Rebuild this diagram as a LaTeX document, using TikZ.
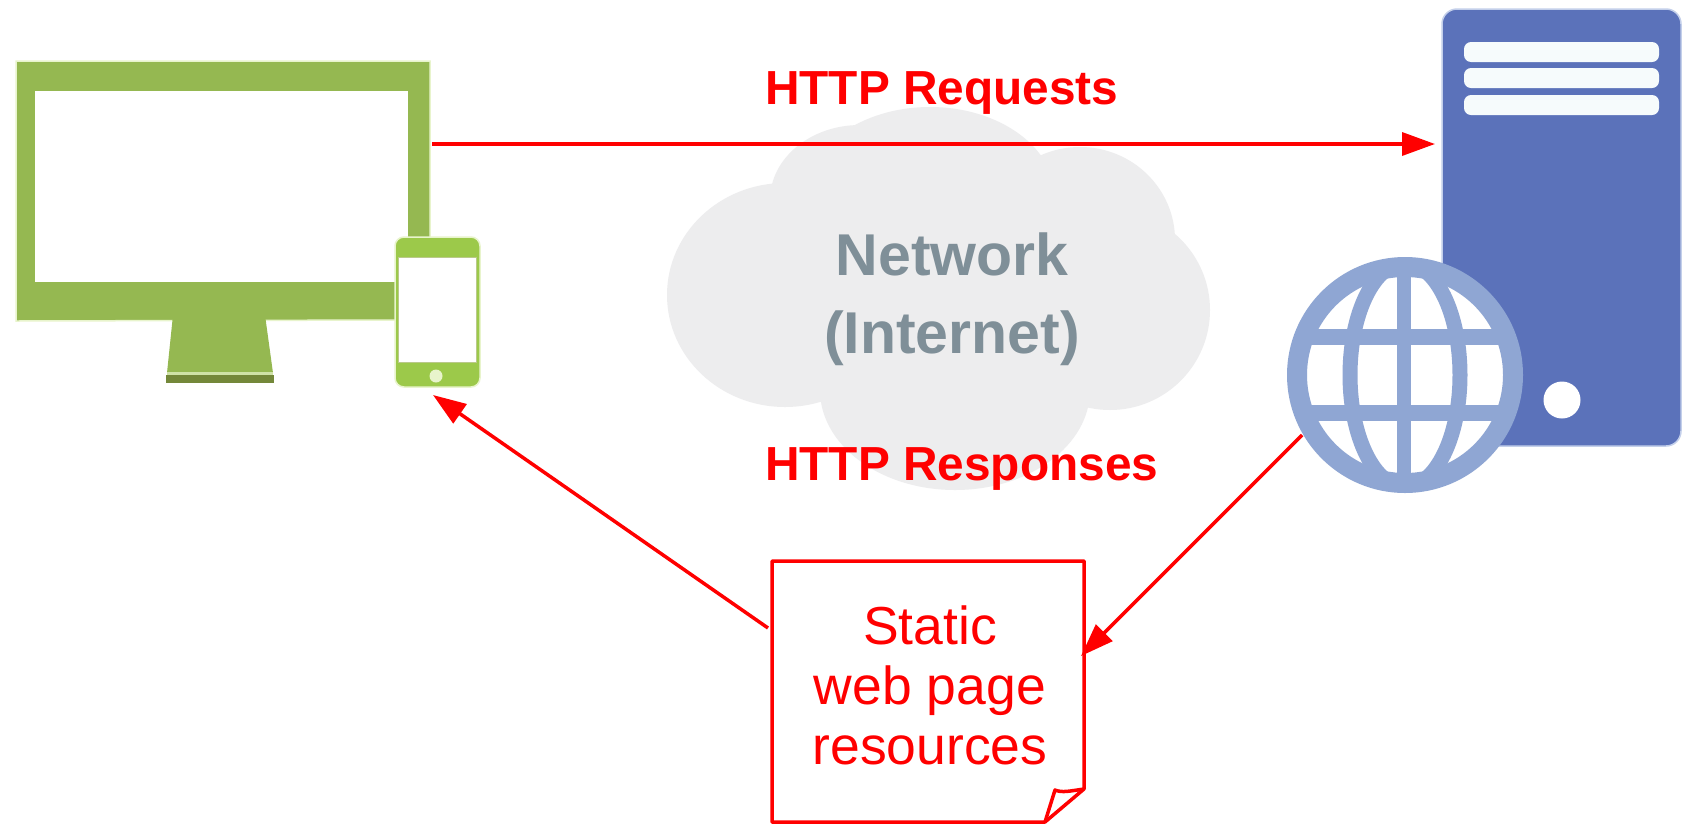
\documentclass[tikz,border=0pt]{standalone}
\usepackage{fontspec}
\setmainfont{Liberation Sans}
\usetikzlibrary{arrows.meta}
\definecolor{mon}{HTML}{95B851}
\definecolor{mondark}{HTML}{74883A}
\definecolor{halo}{HTML}{E8F4CC}
\definecolor{phone}{HTML}{9CC94A}
\definecolor{phoneedge}{HTML}{BAC98A}
\definecolor{srv}{HTML}{5B72BA}
\definecolor{srvedge}{HTML}{C3CFEA}
\definecolor{globe}{HTML}{8FA6D3}
\definecolor{cloudc}{HTML}{EDEDEE}
\definecolor{nettext}{HTML}{7F8F98}
\definecolor{barw}{HTML}{F6FBFC}
\tikzset{
  x=1pt,y=-1pt,
  redline/.style={draw=red,line width=3.5pt},
  flow/.style={redline,-{Triangle[length=33pt,width=23pt]}},
  boldlabel/.style={text=red,inner sep=0pt,anchor=base west,font=\fontsize{47.8}{56}\selectfont\bfseries},
  doctext/.style={text=red,inner sep=0pt,align=center,font=\fontsize{53.5}{60}\selectfont},
  nettxt/.style={text=nettext,inner sep=0pt,anchor=base,font=\fontsize{59}{70}\selectfont\bfseries},
  globeline/.style={draw=globe},
  srvbar/.style={fill=barw,rounded corners=7pt}
}
\begin{document}
\begin{tikzpicture}
\useasboundingbox (0,0) rectangle (1684,823);
\fill[white] (0,0) rectangle (1684,823);

% cloud
\fill[cloudc] (785,295) ellipse (118 and 112);
\fill[cloudc] (860,200) ellipse (90 and 75);
\fill[cloudc] (930,197) ellipse (125 and 90);
\fill[cloudc] (1080,240) ellipse (95 and 93);
\fill[cloudc] (1110,310) ellipse (100 and 100);
\fill[cloudc] (955,390) ellipse (135 and 100);
\fill[cloudc] (800,250) rectangle (1100,400);
\node[nettxt] (net1) at (952,275) {Network};
\node[nettxt] (net2) at (952,353) {(Internet)};

% monitor
\fill[mon,draw=halo,line width=1.5pt] (16,61) -- (430,61) -- (430,240) -- (400,320) -- (16,321) -- cycle;
\fill[white] (35,91) rectangle (408,282);
\fill[mon] (173,315) -- (265,315) -- (273,373) -- (167,373) -- cycle;
\fill[halo!70!mon] (167,372) rectangle (273,376);
\fill[mondark] (166,375) rectangle (274,383);
\node[inner sep=0pt,minimum width=85pt,minimum height=150pt,rounded corners=9pt,fill=phone,draw=halo,line width=1.5pt] (phonebody) at (437.5,312) {};
\fill[white,draw=phoneedge,line width=1pt] (398,257) -- (476,257) -- (476,362) -- (398,362) -- cycle;
\fill[halo] (436,376) circle (6.5);

% server
\node[inner sep=0pt,minimum width=239pt,minimum height=437pt,rounded corners=15pt,fill=srv,draw=srvedge,line width=1.5pt] (server) at (1561.5,227.5) {};
\fill[srvbar] (1464,42) rectangle (1659,62);
\fill[srvbar] (1464,68) rectangle (1659,88);
\fill[srvbar] (1464,95) rectangle (1659,115);
\fill[white] (1562,400) circle (18.5);

% globe
\fill[white] (1405,375) circle (117);
\begin{scope}
\clip (1405,375) circle (108);
\draw[globeline,line width=15pt] (1405,375) ellipse (55 and 112);
\draw[globeline,line width=14pt] (1404,260) -- (1404,490);
\draw[globeline,line width=16pt] (1290,337) -- (1520,337);
\draw[globeline,line width=16pt] (1290,413) -- (1520,413);
\end{scope}
\draw[globeline,line width=20pt] (1405,375) circle (108);
\coordinate (globeout) at (1302,435);

% document
\draw[redline,line join=round] (772,561) -- (1084,561) -- (1084,789) -- (1045,822) -- (772,822) -- cycle;
\draw[redline,line join=round] (1045,822) -- (1055,790) .. controls (1062,793) and (1070,791) .. (1084,789);
\node[doctext] (doc) at (930,685) {Static\\web page\\resources};
\coordinate (docin) at (1081,656);
\coordinate (docout) at (768,628);

% labels
\node[boldlabel] (req) at (765,104) {HTTP Requests};
\node[boldlabel] (resp) at (765,480) {HTTP Responses};

% connectors
\coordinate (monout) at (432,144);
\coordinate (srvin) at (1435,144);
\coordinate (phonein) at (433,395);
\draw[flow] (monout) -- (srvin);
\draw[flow] (globeout) -- (docin);
\draw[flow] (docout) -- (phonein);
\end{tikzpicture}
\end{document}
